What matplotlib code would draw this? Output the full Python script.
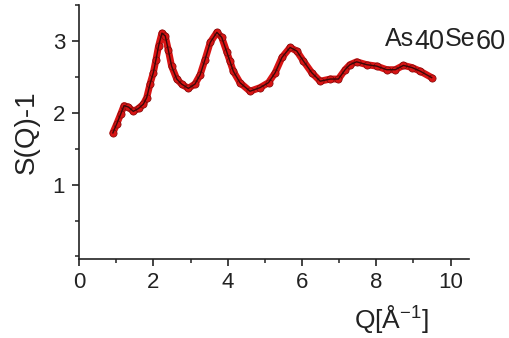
import matplotlib
matplotlib.use("Agg")
import matplotlib.pyplot as plt
from matplotlib.ticker import MultipleLocator

plt.rcParams['font.family'] = ['Liberation Sans', 'DejaVu Sans']
plt.rcParams['mathtext.fontset'] = 'custom'
plt.rcParams['mathtext.rm'] = 'Liberation Sans'

# S(Q)-1
q_values = [0.91, 1.01, 1.12, 1.21, 1.33, 1.46, 1.60, 1.73, 1.82, 1.91,
            2.00, 2.07, 2.14, 2.23, 2.32, 2.40, 2.49, 2.63, 2.76, 2.94,
            3.12, 3.26, 3.39, 3.53, 3.71, 3.84, 3.98, 4.06, 4.15, 4.33,
            4.60, 4.87, 5.10, 5.28, 5.46, 5.68, 5.86, 6.04, 6.26, 6.49,
            6.76, 6.98, 7.16, 7.29, 7.47, 7.74, 8.01, 8.28, 8.51, 8.73,
            8.96, 9.18, 9.49]
s_values = [1.72, 1.84, 1.98, 2.10, 2.08, 2.02, 2.06, 2.12, 2.21, 2.40,
            2.56, 2.74, 2.93, 3.11, 3.07, 2.88, 2.65, 2.47, 2.40, 2.34,
            2.40, 2.53, 2.74, 2.98, 3.12, 3.05, 2.84, 2.72, 2.58, 2.42,
            2.30, 2.35, 2.42, 2.56, 2.77, 2.91, 2.86, 2.72, 2.56, 2.44,
            2.47, 2.47, 2.60, 2.67, 2.71, 2.67, 2.65, 2.60, 2.60, 2.66,
            2.63, 2.58, 2.49]

x_ticks = [0, 2, 4, 6, 8, 10]
y_ticks = [1, 2, 3]
sample_parts = [("As", 0), ("40", -2.5), ("Se", 0), ("60", -2.5)]

fig = plt.figure(figsize=(5.10, 3.38), dpi=100)
ax = fig.add_axes([0.155, 0.235, 0.765, 0.75])

ax.plot(q_values, s_values, color='#d81414', lw=5, solid_capstyle='round',
        solid_joinstyle='round', zorder=2)
ax.plot(q_values, s_values, ls='none', marker='o', ms=5.2,
        mfc='#d81414', mec='#7a0a0a', mew=0.5, zorder=3)
ax.plot(q_values, s_values, color='#3a0808', lw=1.0, zorder=4)

ax.set_xlim(0, 10.5)
ax.set_ylim(-0.03, 3.5)
ax.set_xticks(x_ticks)
ax.set_yticks(y_ticks)
ax.xaxis.set_minor_locator(MultipleLocator(1))
ax.yaxis.set_minor_locator(MultipleLocator(0.5))

for side in ['top', 'right']:
    ax.spines[side].set_visible(False)
for side in ['left', 'bottom']:
    ax.spines[side].set_linewidth(1.2)
    ax.spines[side].set_color('#222222')

ax.tick_params(which='major', direction='out', length=5, width=1.2,
               labelsize=16, pad=5, colors='#222222')
ax.tick_params(which='minor', direction='out', length=3, width=1.1,
               colors='#222222')

ax.set_ylabel("S(Q)-1", fontsize=20, color='#222222', labelpad=9)
ax.set_xlabel(r"Q[Å$^{\mathregular{-1}}$]", fontsize=19, color='#222222')
ax.xaxis.set_label_coords(0.80, -0.175)

# sample name, drawn piece by piece
fig.canvas.draw()
renderer = fig.canvas.get_renderer()
x_pos = 385
for part, dy in sample_parts:
    size = 18 if dy == 0 else 19.5
    t = fig.text(x_pos / 510, (338 - 46.5 + dy) / 338, part, fontsize=size,
                 color='#222222', va='baseline', ha='left')
    x_pos = t.get_window_extent(renderer).x1 + 0.3

fig.savefig("out.png", dpi=100)
